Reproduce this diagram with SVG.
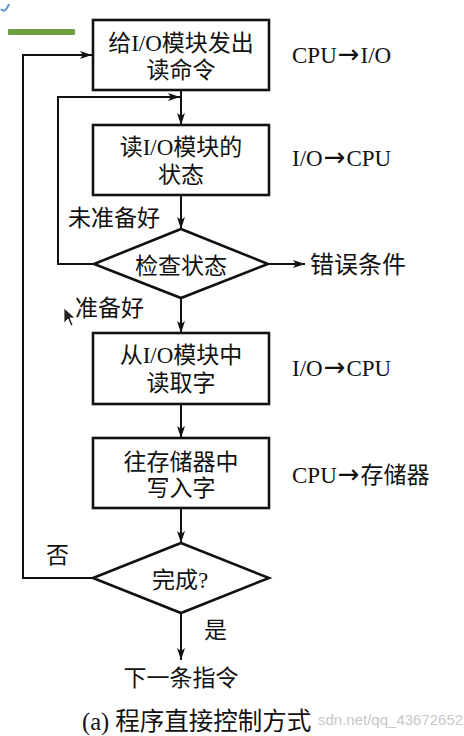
<svg xmlns="http://www.w3.org/2000/svg" width="464" height="736" viewBox="0 0 464 736">
<defs>
<marker id="ah" viewBox="0 0 12 8" refX="12" refY="4" markerWidth="12" markerHeight="8" markerUnits="userSpaceOnUse" orient="auto">
<path d="M0,0 L12,4 L0,8 L3,4 Z" fill="#111"/>
</marker>
<style>
.box{fill:#fff;stroke:#111;stroke-width:2.6}
.ln{fill:none;stroke:#111;stroke-width:2}
.t{font-family:"Liberation Serif","Noto Sans CJK SC",serif;font-size:23px;fill:#111}
.m{text-anchor:middle}
.ar{font-family:"DejaVu Sans",sans-serif;font-size:26px}
</style>
</defs>
<rect width="464" height="736" fill="#fff"/>
<path d="M1,9 Q5,14 9,4" fill="none" stroke="#5b8fd0" stroke-width="2"/>
<rect x="8" y="29" width="67" height="6" fill="#6f9e45" rx="1"/>
<g id="connectors">
<line class="ln" x1="181" y1="90" x2="181" y2="125" marker-end="url(#ah)"/>
<line class="ln" x1="181" y1="195" x2="181" y2="229" marker-end="url(#ah)"/>
<line class="ln" x1="181" y1="298" x2="181" y2="333" marker-end="url(#ah)"/>
<line class="ln" x1="181" y1="404" x2="181" y2="438" marker-end="url(#ah)"/>
<line class="ln" x1="181" y1="508" x2="181" y2="543" marker-end="url(#ah)"/>
<line class="ln" x1="181" y1="613" x2="181" y2="660" marker-end="url(#ah)"/>
<polyline class="ln" points="94,264 58,264 58,97 180,97" marker-end="url(#ah)"/>
<polyline class="ln" points="93,578 23,578 23,55 92,55" marker-end="url(#ah)"/>
<line class="ln" x1="268" y1="264" x2="305" y2="264" marker-end="url(#ah)"/>
</g>
<g id="n1"><rect class="box" x="93" y="20" width="176" height="70"/>
<text class="t m" x="181" y="51">给I/O模块发出</text><text class="t m" x="181" y="78">读命令</text></g>
<g id="n2"><rect class="box" x="93" y="125" width="176" height="70"/>
<text class="t m" x="181" y="155">读I/O模块的</text><text class="t m" x="181" y="183">状态</text></g>
<g id="d1"><polygon class="box" points="181,229 268,264 181,298 94,264"/>
<text class="t m" x="181" y="274">检查状态</text></g>
<g id="n3"><rect class="box" x="93" y="333" width="176" height="71"/>
<text class="t m" x="181" y="363">从I/O模块中</text><text class="t m" x="181" y="391">读取字</text></g>
<g id="n4"><rect class="box" x="93" y="438" width="176" height="70"/>
<text class="t m" x="181" y="470">往存储器中</text><text class="t m" x="181" y="496">写入字</text></g>
<g id="d2"><polygon class="box" points="181,543 269,578 181,613 93,578"/>
<text class="t m" x="180" y="588">完成?</text></g>
<g id="labels">
<text class="t" x="292" y="63">CPU<tspan class="ar" dx="1">→</tspan><tspan dx="1">I/O</tspan></text>
<text class="t" x="292" y="166">I/O<tspan class="ar" dx="1">→</tspan><tspan dx="1">CPU</tspan></text>
<text class="t" x="68" y="226">未准备好</text>
<text class="t" x="310" y="273" style="font-size:24px">错误条件</text>
<text class="t" x="75" y="316">准备好</text>
<text class="t" x="292" y="376">I/O<tspan class="ar" dx="1">→</tspan><tspan dx="1">CPU</tspan></text>
<text class="t" x="292" y="483">CPU<tspan class="ar" dx="1">→</tspan><tspan dx="1">存储器</tspan></text>
<text class="t" x="46" y="563">否</text>
<text class="t" x="204" y="638">是</text>
<text class="t m" x="181" y="686">下一条指令</text>
<text class="t" x="82" y="730" style="font-size:24.5px">(a) 程序直接控制方式</text>
<text x="318" y="725" font-family="Liberation Sans, sans-serif" font-size="15" fill="#c8c8c8">sdn.net/qq_43672652</text>
</g>
<polygon points="64,308 64,323 68,319 71,326 73,325 70,318 75,318" fill="#222" stroke="#fff" stroke-width="0.8"/>
</svg>
